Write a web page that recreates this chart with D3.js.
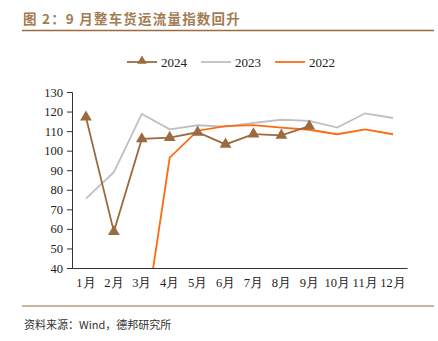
<!DOCTYPE html>
<html><head><meta charset="utf-8">
<script src="https://cdn.jsdelivr.net/npm/d3@7"></script>
<style>body{margin:0;background:#fff}svg{display:block}</style>
</head><body>
<svg id="c" width="438" height="341"></svg>
<script>
const months = ["1月","2月","3月","4月","5月","6月","7月","8月","9月","10月","11月","12月"];
const s2024 = [117.1, 58.6, 106.0, 106.7, 109.4, 103.2, 108.5, 107.8, 112.5, null, null, null];
const s2023 = [75.5, 89.0, 118.8, 110.9, 113.0, 112.3, 114.2, 115.8, 115.2, 111.8, 119.1, 116.7];
const s2022 = [null, null, 1.0, 96.4, 110.2, 112.6, 113.1, 111.8, 110.7, 108.4, 110.9, 108.4];
const yTicks = [40,50,60,70,80,90,100,110,120,130];
const title = "图 2：9 月整车货运流量指数回升";
const source = "资料来源：Wind，德邦研究所";

const svg = d3.select("#c");
const brown = "#9b6b3f", gray = "#bfbfbf", orange = "#ff6a0e", titleCol = "#a37b52";
const serif = "'Liberation Serif','Times New Roman',serif";

// title
svg.append("text").attr("x",23).attr("y",24).attr("fill",titleCol)
  .attr("font-family","'Noto Sans CJK SC',sans-serif").attr("font-weight","bold")
  .attr("font-size",13.5).attr("letter-spacing",1.2).text(title);
svg.append("line").attr("x1",22).attr("x2",434).attr("y1",30.5).attr("y2",30.5)
  .attr("stroke",brown).attr("stroke-width",1.5);
svg.append("line").attr("x1",22).attr("x2",434).attr("y1",306).attr("y2",306)
  .attr("stroke",brown).attr("stroke-width",1.2);
svg.append("text").attr("x",24).attr("y",329).attr("fill","#333")
  .attr("font-family","'Noto Sans CJK SC',sans-serif").attr("font-size",11).text(source);

const x = d3.scaleBand().domain(months).range([72,407]);
const y = d3.scaleLinear().domain([40,130]).range([268,92]);

svg.append("defs").append("clipPath").attr("id","clip")
  .append("rect").attr("x",72).attr("y",80).attr("width",340).attr("height",188);

// y axis
const ya = svg.append("g").attr("transform","translate(72,0)")
  .call(d3.axisLeft(y).tickValues(yTicks).tickSize(5).tickPadding(4));
ya.select(".domain").attr("stroke","#333");
ya.selectAll(".tick line").attr("stroke","#333").attr("x2",0).attr("x1",-5);
ya.selectAll("text").attr("font-family",serif).attr("font-size",12.5).attr("fill","#222");
// x axis
const xa = svg.append("g").attr("transform","translate(0,268)")
  .call(d3.axisBottom(x).tickSize(0).tickPadding(10));
xa.select(".domain").attr("stroke","#333").attr("stroke-width",1.2);
xa.selectAll("text").attr("font-family",serif).attr("font-size",12.5).attr("fill","#222");

const cx = m => x(m) + x.bandwidth()/2;
function draw(vals, col, w){
  const line = d3.line().defined(d=>d[1]!=null).x(d=>cx(d[0])).y(d=>y(d[1]));
  svg.append("path").datum(months.map((m,i)=>[m,vals[i]]))
    .attr("d",line).attr("fill","none").attr("stroke",col).attr("stroke-width",w)
    .attr("clip-path","url(#clip)");
}
draw(s2023, gray, 1.8);
draw(s2022, orange, 1.8);
draw(s2024, brown, 1.8);
const tri = d3.symbol().type(d3.symbolTriangle).size(60);
svg.append("g").selectAll("path").data(months.map((m,i)=>[m,s2024[i]]).filter(d=>d[1]!=null))
  .join("path").attr("d",tri).attr("fill",brown)
  .attr("transform",d=>`translate(${cx(d[0])},${y(d[1])})`);

// legend
const leg = [{n:"2024",c:brown,x:127,m:true},{n:"2023",c:gray,x:201},{n:"2022",c:orange,x:275}];
leg.forEach(l=>{
  svg.append("line").attr("x1",l.x).attr("x2",l.x+30).attr("y1",62).attr("y2",62)
    .attr("stroke",l.c).attr("stroke-width",1.8);
  if(l.m) svg.append("path").attr("d",d3.symbol().type(d3.symbolTriangle).size(40)())
    .attr("fill",l.c).attr("transform",`translate(${l.x+15},61)`);
  svg.append("text").attr("x",l.x+34).attr("y",66.5).attr("font-family",serif)
    .attr("font-size",13).attr("fill","#222").text(l.n);
});
</script>
</body></html>
